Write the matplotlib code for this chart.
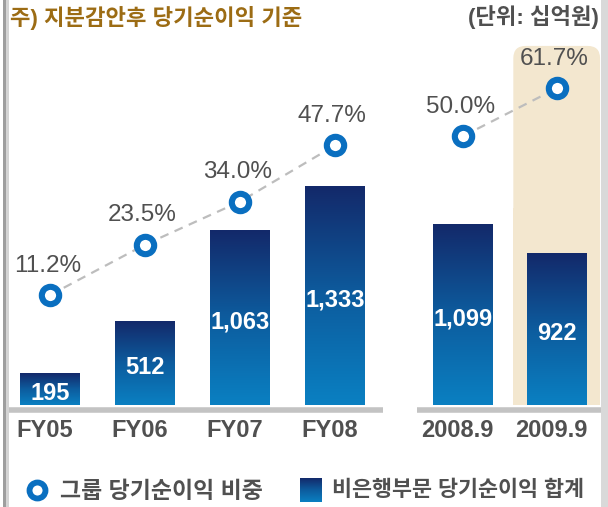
import matplotlib
matplotlib.use("Agg")
import matplotlib.pyplot as plt
import numpy as np
from matplotlib.colors import LinearSegmentedColormap
from matplotlib.patches import FancyBboxPatch, Rectangle

plt.rcParams['font.family'] = ['Liberation Sans', 'Noto Sans CJK KR']

# 데이터
categories = ["FY05", "FY06", "FY07", "FY08", "2008.9", "2009.9"]
profit = [195, 512, 1063, 1333, 1099, 922]          # 비은행부문 당기순이익 합계 (십억원)
share = [11.2, 23.5, 34.0, 47.7, 50.0, 61.7]        # 그룹 당기순이익 비중 (%)
groups = [[0, 1, 2, 3], [4, 5]]                     # 점선으로 잇는 구간

title = "주) 지분감안후 당기순이익 기준"
unit = "(단위: 십억원)"
legend_line = "그룹 당기순이익 비중"
legend_bar = "비은행부문 당기순이익 합계"

# 레이아웃
xpos = np.array([0, 1, 2, 3, 4.35, 5.34])
bar_w = 0.63
blue = "#0a6fc0"
gray_text = "#505050"
cmap = LinearSegmentedColormap.from_list("bar", ["#0a80c2", "#0d5c9e", "#13296a"])
grad = np.linspace(0, 1, 256).reshape(-1, 1)

fig = plt.figure(figsize=(6.08, 5.07), dpi=100)
ax = fig.add_axes([0, 0, 1, 1])
ax.axis("off")

# 2009.9 강조 배경
hx0 = xpos[5] - 0.463
hx1 = xpos[5] + 0.45
ax.add_patch(FancyBboxPatch((hx0, 0), hx1 - hx0, 2190, boxstyle="round,pad=0,rounding_size=0.13",
                            mutation_aspect=6.1 * 95, fc="#f3e7cf", ec="none", zorder=0))
ax.add_patch(Rectangle((hx0, 0), hx1 - hx0, 1200, fc="#f3e7cf", ec="none", zorder=0))

# 막대 (그라데이션)
for x, v in zip(xpos, profit):
    ax.imshow(grad, extent=[x - bar_w / 2, x + bar_w / 2, 0, v], origin="lower",
              cmap=cmap, aspect="auto", zorder=2)
    ax.text(x, v / 2 - 25, f"{v:,}", color="white", fontsize=17, fontweight="bold",
            ha="center", va="center", zorder=3)

# 기준선
ax.plot([-0.44, 3.51], [-30, -30], color="#c3c3c3", lw=4, solid_capstyle="butt", zorder=1)
ax.plot([3.86, 5.86], [-30, -30], color="#c3c3c3", lw=4, solid_capstyle="butt", zorder=1)

# 카테고리 라벨
for x, c in zip(xpos, categories):
    ax.text(x - 0.06, 0.150, c, transform=ax.get_xaxis_transform(), fontsize=17,
            fontweight="bold", color=gray_text, ha="center", va="center")

ax.set_xlim(-50 / 95, 558 / 95)
ax.set_ylim(-622, 2470)

# 비중 선
ax2 = ax.twinx()
ax2.set_ylim(-166 / 4.1, 341 / 4.1)
ax2.axis("off")
for g in groups:
    ax2.plot(xpos[g], np.array(share)[g], ls=(0, (4, 3)), color="#bdbdbd", lw=1.6, zorder=3)
ax2.plot(xpos, share, ls="none", marker="o", ms=12.5, mew=4.4, mec=blue, mfc="white", zorder=4)
for x, p in zip(xpos, share):
    ax2.annotate(f"{p:.1f}%", (x, p), xytext=(-2, 21), textcoords="offset points",
                 fontsize=17.5, color=gray_text, ha="center", va="center")

# 제목 / 단위
fig.text(10 / 608, 1 - 18 / 507, title, fontsize=16, fontweight="bold", color="#9c6c14",
         ha="left", va="center")
fig.text(599 / 608, 1 - 17 / 507, unit, fontsize=16, fontweight="bold", color=gray_text,
         ha="right", va="center")

# 범례
ax.plot([37 / 608], [1 - 490 / 507], transform=fig.transFigure, marker="o", ms=11.5, mew=4.2,
        mec=blue, mfc="white", ls="none", clip_on=False)
fig.text(60 / 608, 1 - 491 / 507, legend_line, fontsize=16.5, fontweight="bold", color=gray_text,
         ha="left", va="center")
lax = fig.add_axes([300 / 608, 5 / 507, 22 / 608, 24 / 507])
lax.imshow(grad, cmap=cmap, origin="lower", aspect="auto")
lax.axis("off")
fig.text(332 / 608, 1 - 491 / 507, legend_bar, fontsize=15.7, fontweight="bold", color=gray_text,
         ha="left", va="center")

# 좌우 테두리
fig.patches.append(Rectangle((3 / 608, 0), 3 / 608, 1, transform=fig.transFigure, fc="#9e9e9e", ec="none"))
fig.patches.append(Rectangle((6 / 608, 0), 3 / 608, 1, transform=fig.transFigure, fc="#d4d4d4", ec="none"))
fig.patches.append(Rectangle((601 / 608, 0), 7 / 608, 1, transform=fig.transFigure, fc="#d9d9d9", ec="none"))

fig.savefig("out.png", dpi=100)
